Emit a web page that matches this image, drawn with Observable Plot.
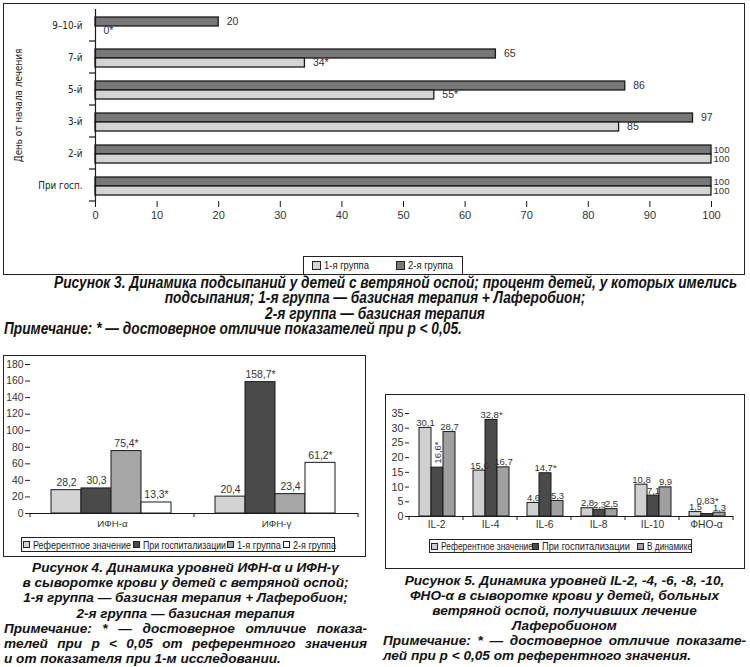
<!DOCTYPE html>
<html><head><meta charset="utf-8">
<script src="https://cdn.jsdelivr.net/npm/d3@7"></script>
<script src="https://cdn.jsdelivr.net/npm/@observablehq/plot@0.6"></script>
<style>
body{margin:0;background:#fff;}
#page{position:relative;width:750px;height:667px;overflow:hidden;font-family:"Liberation Sans",Arial,sans-serif;color:#1a1a1a;background:#fff;}
.box{position:absolute;border:1.5px solid #222;box-sizing:border-box;}
.plot{position:absolute;}
.legend{position:absolute;border:1px solid #222;box-sizing:border-box;background:#fff;white-space:nowrap;color:#222;}
.legend .item{position:absolute;top:0;bottom:0;display:flex;align-items:center;}
.legend .txt{display:inline-block;transform-origin:0 50%;}
.sw{display:inline-block;box-sizing:border-box;border:1px solid #222;}
.cap{position:absolute;font-weight:bold;font-style:italic;color:#111;}
.narrow{font-family:"Liberation Sans Narrow","Arial Narrow","DejaVu Sans Condensed",sans-serif;font-stretch:condensed;}
.c{text-align:center;white-space:nowrap;}
.j{text-align:justify;text-align-last:justify;white-space:nowrap;}
.l{text-align:left;white-space:nowrap;}
</style></head>
<body>
<div id="page">
  <div class="box" style="left:3px;top:3px;width:742px;height:272px;"></div>
  <div id="c1" class="plot" style="left:0;top:0;"></div>
  <div id="leg1" class="legend" style="left:303px;top:256px;width:160px;height:19px;font-size:10px;"></div>

  <div class="box" style="left:3px;top:355px;width:363px;height:202px;"></div>
  <div id="c2" class="plot" style="left:0;top:350px;"></div>
  <div id="leg2" class="legend" style="left:21px;top:537px;width:314px;height:15px;font-size:10.5px;"></div>

  <div class="box" style="left:385px;top:394px;width:360px;height:175px;"></div>
  <div id="c3" class="plot" style="left:380px;top:400px;"></div>
  <div id="leg3" class="legend" style="left:429px;top:539px;width:263px;height:14px;font-size:10.5px;"></div>

  <div id="cap3" class="cap" style="left:0;top:275px;width:750px;font-size:16px;line-height:15.3px;">
    <div class="c"><span>Рисунок 3. Динамика подсыпаний у детей с ветряной оспой; процент детей, у которых имелись</span></div>
    <div class="c"><span>подсыпания; 1-я группа — базисная терапия + Лаферобион;</span></div>
    <div class="c"><span>2-я группа — базисная терапия</span></div>
    <div class="l" style="padding-left:4px;"><span>Примечание: * — достоверное отличие показателей при p &lt; 0,05.</span></div>
  </div>

  <div class="cap" style="left:4px;top:560px;width:363px;font-size:13.6px;line-height:15.2px;">
    <div class="c">Рисунок 4. Динамика уровней ИФН-α и ИФН-γ</div>
    <div class="c">в сыворотке крови у детей с ветряной оспой;</div>
    <div class="c">1-я группа — базисная терапия + Лаферобион;</div>
    <div class="c">2-я группа — базисная терапия</div>
    <div class="j">Примечание: * — достоверное отличие показа-</div>
    <div class="j">телей при p &lt; 0,05 от референтного значения</div>
    <div class="l">и от показателя при 1-м исследовании.</div>
  </div>

  <div class="cap" style="left:383px;top:573px;width:363px;font-size:13.6px;line-height:15px;">
    <div class="c">Рисунок 5. Динамика уровней IL-2, -4, -6, -8, -10,</div>
    <div class="c">ФНО-α в сыворотке крови у детей, больных</div>
    <div class="c">ветряной оспой, получивших лечение</div>
    <div class="c">Лаферобионом</div>
    <div class="j">Примечание: * — достоверное отличие показате-</div>
    <div class="l">лей при p &lt; 0,05 от референтного значения.</div>
  </div>
</div>
<script>
// ---------------- Figure 3 data ----------------
const days = ["9–10-й", "7-й", "5-й", "3-й", "2-й", "При госп."];
const groupNames = ["1-я группа", "2-я группа"];
const group1Values = [0, 34, 55, 85, 100, 100];
const group1Labels = ["0*", "34*", "55*", "85", "100", "100"];
const group2Values = [20, 65, 86, 97, 100, 100];
const group2Labels = ["20", "65", "86", "97", "100", "100"];
const xTicks3 = [0, 10, 20, 30, 40, 50, 60, 70, 80, 90, 100];
const yTitle3 = "День от начала лечения";
const colors3 = ["#d4d4d4", "#777777"];

// ---------------- Figure 4 data ----------------
const ifnCats = ["ИФН-α", "ИФН-γ"];
const ifnSeries = ["Референтное значение", "При госпитализации", "1-я группа", "2-я группа"];
const ifnRef = [28.2, 20.4];
const ifnHosp = [30.3, 158.7];
const ifnGroup1 = [75.4, 23.4];
const ifnGroup2 = [13.3, 61.2];
const ifnRefLabels = ["28,2", "20,4"];
const ifnHospLabels = ["30,3", "158,7*"];
const ifnGroup1Labels = ["75,4*", "23,4"];
const ifnGroup2Labels = ["13,3*", "61,2*"];
const yTicks4 = [0, 20, 40, 60, 80, 100, 120, 140, 160, 180];
const colors4 = ["#d3d3d3", "#4a4a4a", "#a6a6a6", "#ffffff"];

// ---------------- Figure 5 data ----------------
const ilCats = ["IL-2", "IL-4", "IL-6", "IL-8", "IL-10", "ФНО-α"];
const ilSeries = ["Референтное значение", "При госпитализации", "В динамике"];
const ilRef = [30.1, 15.6, 4.6, 2.8, 10.8, 1.5];
const ilHosp = [16.6, 32.8, 14.7, 2.3, 7.1, 0.83];
const ilDyn = [28.7, 16.7, 5.3, 2.5, 9.9, 1.3];
const ilRefLabels = ["30,1", "15,6", "4,6", "2,8", "10,8", "1,5"];
const ilHospLabels = ["16,6*", "32,8*", "14,7*", "2,3", "7,1", "0,83*"];
const ilDynLabels = ["28,7", "16,7", "5,3", "2,5", "9,9", "1,3"];
const ilVerticalLabelCats = ["IL-2"];
const ilRaisedLabelCats = ["ФНО-α"];
const yTicks5 = [0, 5, 10, 15, 20, 25, 30, 35];
const colors5 = ["#d0d0d0", "#4a4a4a", "#a0a0a0"];

const baseStyle = {fontFamily: "'Liberation Sans', Arial, sans-serif", color: "#222", background: "transparent", overflow: "visible"};
const narrowFont = "'Liberation Sans Narrow', 'Arial Narrow', 'DejaVu Sans Condensed', sans-serif";

function bandBoundaries(sc) {
  const b = sc.domain.map(d => sc.apply(d));
  b.push(sc.apply(sc.domain[sc.domain.length - 1]) + sc.bandwidth);
  return b;
}

// ---------------- Chart 1 ----------------
const rows3 = [];
days.forEach((d, i) => {
  rows3.push({day: d, group: groupNames[1], value: group2Values[i], label: group2Labels[i]});
  rows3.push({day: d, group: groupNames[0], value: group1Values[i], label: group1Labels[i]});
});
const p1 = Plot.plot({
  width: 750, height: 232,
  marginLeft: 95, marginRight: 39, marginTop: 8, marginBottom: 31,
  style: {...baseStyle, fontSize: "11px"},
  x: {domain: [0, 100]},
  y: {domain: [groupNames[1], groupNames[0]], paddingInner: 0, paddingOuter: 0.63, align: 0.57, axis: null},
  fy: {domain: days, padding: 0, axis: null},
  color: {domain: groupNames, range: colors3},
  marks: [
    Plot.barX(rows3, {fy: "day", y: "group", x: "value", fill: "group", stroke: "#1a1a1a", strokeWidth: 1.3}),
    Plot.text(rows3.filter(d => d.value < 100), {fy: "day", y: "group", x: "value", text: "label", textAnchor: "start", dx: 8, fontSize: 10.5, fill: "#333"}),
    Plot.text(rows3.filter(d => d.value >= 100), {fy: "day", y: "group", x: "value", text: "label", textAnchor: "start", dx: 2, fontSize: 9.6, fill: "#333"}),
    Plot.ruleX([0], {stroke: "#1a1a1a", strokeWidth: 1.2}),
    Plot.axisX({ticks: xTicks3, tickSize: 6, tickPadding: 4, line: true, fontSize: 11, stroke: "#1a1a1a", fill: "#333", label: null}),
    Plot.axisFy({anchor: "left", tickSize: 0, tickPadding: 13, fontSize: 9.8, fontFamily: narrowFont, fill: "#222",
      label: yTitle3, labelAnchor: "center", labelOffset: 80})
  ]
});
document.getElementById("c1").appendChild(p1);
{
  const fy = p1.scale("fy"), x = p1.scale("x");
  const x0 = x.apply(0);
  const svg = d3.select(p1);
  bandBoundaries(fy).slice(1).forEach(yb => {
    svg.append("line").attr("x1", x0 - 6).attr("x2", x0).attr("y1", yb).attr("y2", yb)
      .attr("stroke", "#1a1a1a").attr("stroke-width", 1.2);
  });
}

// ---------------- Chart 2 ----------------
const ifnVals = [ifnRef, ifnHosp, ifnGroup1, ifnGroup2];
const ifnLabs = [ifnRefLabels, ifnHospLabels, ifnGroup1Labels, ifnGroup2Labels];
const rows4 = [];
ifnCats.forEach((c, i) => ifnSeries.forEach((s, j) => rows4.push({cat: c, series: s, value: ifnVals[j][i], label: ifnLabs[j][i]})));
const p2 = Plot.plot({
  width: 370, height: 186,
  marginLeft: 30, marginRight: 12, marginTop: 14, marginBottom: 23,
  style: {...baseStyle, fontSize: "10px"},
  x: {domain: ifnSeries, paddingInner: 0, paddingOuter: 0.73, align: 0.47, axis: null},
  y: {domain: [0, 180], axis: null},
  fx: {domain: ifnCats, padding: 0, axis: null},
  color: {domain: ifnSeries, range: colors4},
  marks: [
    Plot.barY(rows4, {fx: "cat", x: "series", y: "value", fill: "series", stroke: "#1a1a1a", strokeWidth: 1}),
    Plot.text(rows4, {fx: "cat", x: "series", y: "value", text: "label", lineAnchor: "bottom", dy: -4, fontSize: 10.4, fill: "#333"}),
    Plot.ruleY([0], {stroke: "#1a1a1a"}),
    Plot.axisY({ticks: yTicks4, tickSize: 5, tickPadding: 2, line: true, fontSize: 10.3, fill: "#333", label: null}),
    Plot.axisFx({anchor: "bottom", tickSize: 0, tickPadding: 7, fontSize: 9.8, fill: "#333", label: null})
  ]
});
document.getElementById("c2").appendChild(p2);
{
  const fx = p2.scale("fx"), y = p2.scale("y");
  const y0 = y.apply(0);
  const svg = d3.select(p2);
  bandBoundaries(fx).forEach(xb => {
    svg.append("line").attr("x1", xb).attr("x2", xb).attr("y1", y0).attr("y2", y0 + 4)
      .attr("stroke", "#1a1a1a");
  });
}

// ---------------- Chart 3 ----------------
const ilVals = [ilRef, ilHosp, ilDyn];
const ilLabs = [ilRefLabels, ilHospLabels, ilDynLabels];
const rows5 = [];
ilCats.forEach((c, i) => ilSeries.forEach((s, j) => rows5.push({cat: c, series: s, value: ilVals[j][i], label: ilLabs[j][i],
  vertical: j === 1 && ilVerticalLabelCats.includes(c),
  raised: j === 1 && ilRaisedLabelCats.includes(c)})));
const p3 = Plot.plot({
  width: 370, height: 136,
  marginLeft: 27, marginRight: 16, marginTop: 13, marginBottom: 20,
  style: {...baseStyle, fontSize: "10px"},
  x: {domain: ilSeries, paddingInner: 0, paddingOuter: 0.74, align: 0.55, axis: null},
  y: {domain: [0, 35], axis: null},
  fx: {domain: ilCats, padding: 0, axis: null},
  color: {domain: ilSeries, range: colors5},
  marks: [
    Plot.barY(rows5, {fx: "cat", x: "series", y: "value", fill: "series", stroke: "#1a1a1a", strokeWidth: 1}),
    Plot.text(rows5.filter(d => !d.vertical && !d.raised), {fx: "cat", x: "series", y: "value", text: "label", lineAnchor: "bottom", dy: -2, fontSize: 9.5, fill: "#333"}),
    Plot.text(rows5.filter(d => d.raised), {fx: "cat", x: "series", y: "value", text: "label", lineAnchor: "bottom", dy: -10, fontSize: 9.5, fill: "#333"}),
    Plot.text(rows5.filter(d => d.vertical), {fx: "cat", x: "series", y: "value", text: "label", rotate: -90, textAnchor: "start", lineAnchor: "middle", dy: -4, fontSize: 9.5, fill: "#333"}),
    Plot.ruleY([0], {stroke: "#1a1a1a"}),
    Plot.axisY({ticks: yTicks5, tickSize: 4, tickPadding: 2, line: true, fontSize: 10.8, fill: "#333", label: null}),
    Plot.axisFx({anchor: "bottom", tickSize: 0, tickPadding: 4, fontSize: 10.3, fill: "#333", label: null})
  ]
});
document.getElementById("c3").appendChild(p3);
{
  const fx = p3.scale("fx"), y = p3.scale("y");
  const y0 = y.apply(0);
  const svg = d3.select(p3);
  bandBoundaries(fx).forEach(xb => {
    svg.append("line").attr("x1", xb).attr("x2", xb).attr("y1", y0).attr("y2", y0 + 4)
      .attr("stroke", "#1a1a1a");
  });
}

// ---------------- Legends ----------------
function legend(id, names, cols, xs, widths, sw) {
  const el = document.getElementById(id);
  names.forEach((n, i) => {
    const item = document.createElement("span");
    item.className = "item";
    item.style.left = xs[i] + "px";
    const s = document.createElement("span");
    s.className = "sw";
    s.style.width = sw + "px"; s.style.height = sw + "px";
    s.style.background = cols[i];
    s.style.marginRight = "3px";
    const t = document.createElement("span");
    t.className = "txt";
    t.textContent = n;
    item.appendChild(s);
    item.appendChild(t);
    el.appendChild(item);
    const w = t.getBoundingClientRect().width;
    t.style.transform = `scaleX(${widths[i] / w})`;
  });
}
legend("leg1", groupNames, colors3, [8, 92], [45, 45], 9);
legend("leg2", ifnSeries, colors4, [1, 111, 205, 261], [98, 83, 44, 43], 7);
legend("leg3", ilSeries, colors5, [1, 102, 207], [92, 88, 45], 7);

// ---------------- Fit the condensed Figure 3 caption ----------------
{
  const cap = document.getElementById("cap3");
  const lines = Array.from(cap.children);
  const first = lines[0].querySelector("span");
  const s = 683 / first.getBoundingClientRect().width;
  lines.forEach(div => {
    div.style.transform = `scaleX(${s})`;
    div.style.transformOrigin = div.classList.contains("c") ? "50% 50%" : "4px 50%";
  });
}
</script>
</body></html>
